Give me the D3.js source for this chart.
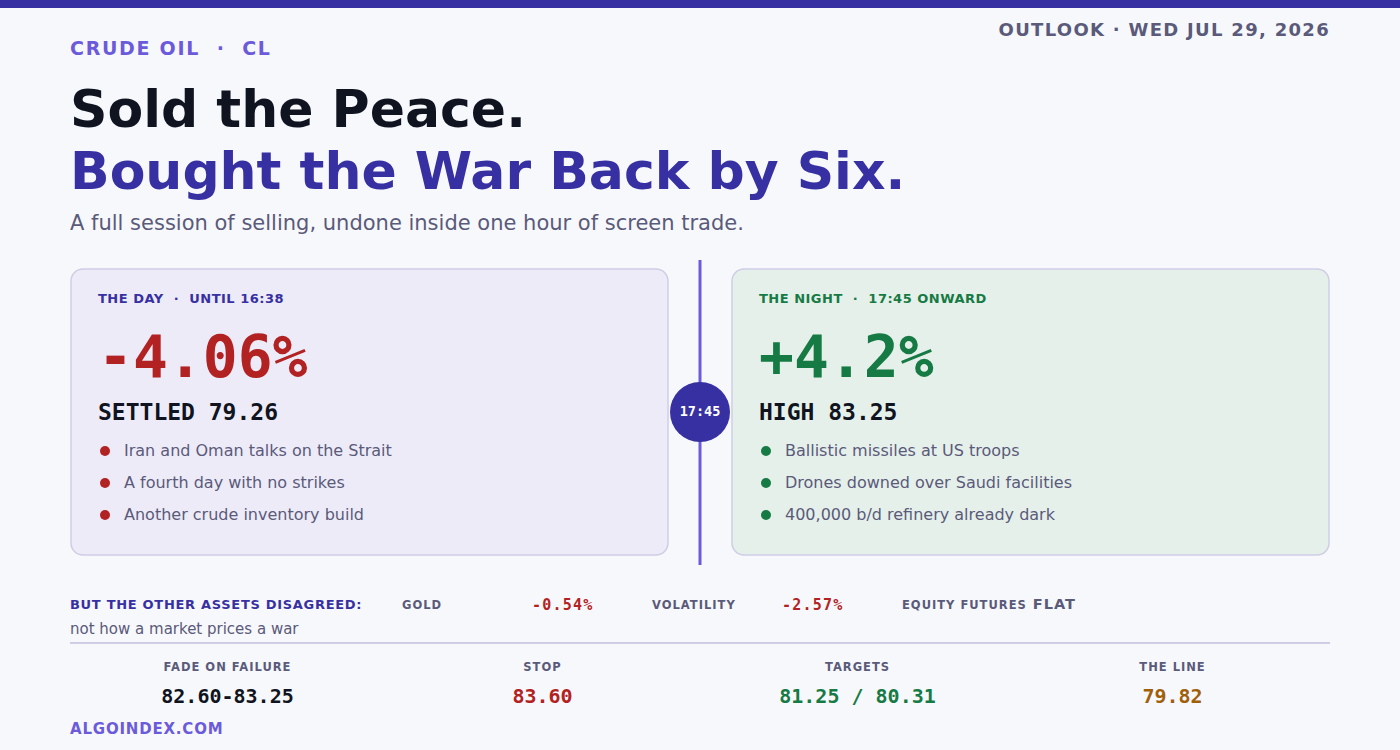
<!DOCTYPE html>
<html>
<head>
<meta charset="utf-8">
<script src="https://cdn.jsdelivr.net/npm/d3@7"></script>
<style>
  html, body { margin: 0; padding: 0; background: #f7f8fc; }
  svg { display: block; }
  .sans { font-family: "DejaVu Sans", sans-serif; }
  .mono { font-family: "DejaVu Sans Mono", monospace; }
</style>
</head>
<body>
<div id="chart"></div>
<script>
/////////////////////////////////////////////////
/* Data */
/////////////////////////////////////////////////
const kicker = "CRUDE OIL  ·  CL"
const dateline = "OUTLOOK · WED JUL 29, 2026"
const headline = ["Sold the Peace.", "Bought the War Back by Six."]
const subtitle = "A full session of selling, undone inside one hour of screen trade."

const sessions = ["day", "night"]
const sessionLabels = ["THE DAY  ·  UNTIL 16:38", "THE NIGHT  ·  17:45 ONWARD"]
const sessionMoves = ["-4.06%", "+4.2%"]
const sessionPrices = ["SETTLED 79.26", "HIGH 83.25"]
const dayBullets = ["Iran and Oman talks on the Strait", "A fourth day with no strikes", "Another crude inventory build"]
const nightBullets = ["Ballistic missiles at US troops", "Drones downed over Saudi facilities", "400,000 b/d refinery already dark"]
const pivotTime = "17:45"

const crossLead = "BUT THE OTHER ASSETS DISAGREED:"
const crossAssets = ["GOLD", "VOLATILITY", "EQUITY FUTURES"]
const crossValues = ["-0.54%", "-2.57%", "FLAT"]
const crossNote = "not how a market prices a war"

const levelLabels = ["FADE ON FAILURE", "STOP", "TARGETS", "THE LINE"]
const levelValues = ["82.60-83.25", "83.60", "81.25 / 80.31", "79.82"]

const footer = "ALGOINDEX.COM"

/////////////////////////////////////////////////
/* Setup */
/////////////////////////////////////////////////
const W = 1400, H = 750
const left = 70, right = 1330
const cardGap = 62

const INDIGO = "#3730a3"
const VIOLET = "#6b5bdb"
const INK = "#0f1420"
const MUTED = "#5a5a7a"
const RED = "#b22222"
const GREEN = "#167a44"
const AMBER = "#a0600a"
const RULE = "#cfcde6"

const svg = d3.select("#chart").append("svg")
    .attr("width", W)
    .attr("height", H)

svg.append("rect").attr("width", W).attr("height", H).attr("fill", "#f7f8fc")
svg.append("rect").attr("width", W).attr("height", 8).attr("fill", INDIGO)

// header
svg.append("text").attr("class", "sans")
    .attr("x", left).attr("y", 55)
    .attr("font-size", 19).attr("font-weight", "bold")
    .attr("letter-spacing", 1.7).attr("fill", VIOLET)
    .attr("xml:space", "preserve")
    .text(kicker)

svg.append("text").attr("class", "sans")
    .attr("x", right).attr("y", 36)
    .attr("text-anchor", "end")
    .attr("font-size", 18).attr("font-weight", "bold")
    .attr("letter-spacing", 1.3).attr("fill", MUTED)
    .text(dateline)

svg.selectAll(".headline")
  .data(headline)
  .enter().append("text")
    .attr("class", "headline sans")
    .attr("x", left)
    .attr("y", (d, i) => 127 + i * 62)
    .attr("font-size", 52).attr("font-weight", "bold")
    .attr("fill", (d, i) => i == 0 ? INK : INDIGO)
    .text(d => d)

svg.append("text").attr("class", "sans")
    .attr("x", left).attr("y", 230)
    .attr("font-size", 21).attr("fill", MUTED)
    .text(subtitle)

/////////////////////////////////////////////////
/* Session cards */
/////////////////////////////////////////////////
// paddingInner is a share of the step: gap = p * 1260 / (2 - p)
const pad = 2 * cardGap / (right - left + cardGap)
const xCard = d3.scaleBand().domain(sessions).range([left, right]).paddingInner(pad)
const cardTop = 269, cardH = 286
const cardFill = {day: "#eeebf8", night: "#e6f0ea"}
const cardInk = {day: INDIGO, night: GREEN}
const moveInk = {day: RED, night: GREEN}
const dotInk = {day: RED, night: GREEN}
const bullets = {day: dayBullets, night: nightBullets}
const yBullet = d3.scalePoint().domain([0, 1, 2]).range([450, 514])

const cards = svg.selectAll(".card")
  .data(sessions)
  .enter().append("g")
    .attr("class", "card")
    .attr("transform", d => "translate(" + (xCard(d) + 1) + "," + cardTop + ")")

cards.append("rect")
    .attr("width", xCard.bandwidth() - 2).attr("height", cardH)
    .attr("rx", 12)
    .attr("fill", d => cardFill[d])
    .attr("stroke", RULE).attr("stroke-width", 1.5)

cards.append("text").attr("class", "sans")
    .attr("x", 27).attr("y", 34)
    .attr("font-size", 13).attr("font-weight", "bold")
    .attr("letter-spacing", 0.5)
    .attr("fill", d => cardInk[d])
    .attr("xml:space", "preserve")
    .text((d, i) => sessionLabels[i])

cards.append("text").attr("class", "mono")
    .attr("x", 27).attr("y", 108)
    .attr("font-size", 58).attr("font-weight", "bold")
    .attr("fill", d => moveInk[d])
    .text((d, i) => sessionMoves[i])

cards.append("text").attr("class", "mono")
    .attr("x", 27).attr("y", 151)
    .attr("font-size", 23).attr("font-weight", "bold")
    .attr("fill", INK)
    .text((d, i) => sessionPrices[i])

const items = cards.selectAll(".item")
  .data(d => bullets[d].map((t, i) => ({s: d, t: t, i: i})))
  .enter().append("g")
    .attr("class", "item")
    .attr("transform", d => "translate(0," + (yBullet(d.i) - cardTop) + ")")

items.append("circle")
    .attr("cx", 34).attr("cy", 1).attr("r", 5)
    .attr("fill", d => dotInk[d.s])

items.append("text").attr("class", "sans")
    .attr("x", 53).attr("y", 6)
    .attr("font-size", 16).attr("fill", MUTED)
    .text(d => d.t)

// pivot marker between the cards
const xPivot = (xCard("day") + xCard.bandwidth() + xCard("night")) / 2
svg.append("line")
    .attr("x1", xPivot).attr("x2", xPivot)
    .attr("y1", 260).attr("y2", 565)
    .attr("stroke", VIOLET).attr("stroke-width", 3)

svg.append("circle")
    .attr("cx", xPivot).attr("cy", 412).attr("r", 30)
    .attr("fill", INDIGO)

svg.append("text").attr("class", "mono")
    .attr("x", xPivot).attr("y", 416)
    .attr("text-anchor", "middle")
    .attr("font-size", 13.5).attr("font-weight", "bold")
    .attr("fill", "#ffffff")
    .text(pivotTime)

/////////////////////////////////////////////////
/* Cross-asset strip */
/////////////////////////////////////////////////
svg.append("text").attr("class", "sans")
    .attr("x", left).attr("y", 609)
    .attr("font-size", 13).attr("font-weight", "bold")
    .attr("letter-spacing", 0.7)
    .attr("fill", INDIGO)
    .text(crossLead)

const xAsset = d3.scaleLinear().domain([0, 1]).range([402, 652])

crossAssets.forEach(function(a, i) {
    let t = svg.append("text").attr("class", "sans")
        .attr("x", xAsset(i)).attr("y", 609)
        .attr("font-size", 11.5).attr("font-weight", "bold")
        .attr("letter-spacing", 1).attr("fill", MUTED)
    t.append("tspan").text(a)
    if (crossValues[i] == "FLAT") {
        t.append("tspan")
            .attr("font-size", 14.5).attr("letter-spacing", 1)
            .text(" " + crossValues[i])
    } else {
        svg.append("text").attr("class", "mono")
            .attr("x", xAsset(i) + 130).attr("y", 610)
            .attr("font-size", 15).attr("font-weight", "bold")
            .attr("letter-spacing", 1.2).attr("fill", RED)
            .text(crossValues[i])
    }
})

svg.append("text").attr("class", "sans")
    .attr("x", left).attr("y", 634)
    .attr("font-size", 15).attr("fill", MUTED)
    .text(crossNote)

svg.append("line")
    .attr("x1", left).attr("x2", right)
    .attr("y1", 643).attr("y2", 643)
    .attr("stroke", RULE).attr("stroke-width", 2)

/////////////////////////////////////////////////
/* Trade levels */
/////////////////////////////////////////////////
const xLevel = d3.scaleBand().domain(levelLabels).range([left, right])
const levelInk = [INK, RED, GREEN, AMBER]

const levels = svg.selectAll(".level")
  .data(levelLabels)
  .enter().append("g")
    .attr("class", "level")
    .attr("transform", d => "translate(" + (xLevel(d) + xLevel.bandwidth() / 2) + ",0)")

levels.append("text").attr("class", "sans")
    .attr("y", 671).attr("text-anchor", "middle")
    .attr("font-size", 11.5).attr("font-weight", "bold")
    .attr("letter-spacing", 1).attr("fill", MUTED)
    .text(d => d)

levels.append("text").attr("class", "mono")
    .attr("y", 703).attr("text-anchor", "middle")
    .attr("font-size", 20).attr("font-weight", "bold")
    .attr("fill", (d, i) => levelInk[i])
    .text((d, i) => levelValues[i])

svg.append("text").attr("class", "sans")
    .attr("x", left).attr("y", 734)
    .attr("font-size", 15).attr("font-weight", "bold")
    .attr("letter-spacing", 0.8)
    .attr("fill", VIOLET)
    .text(footer)
</script>
</body>
</html>
